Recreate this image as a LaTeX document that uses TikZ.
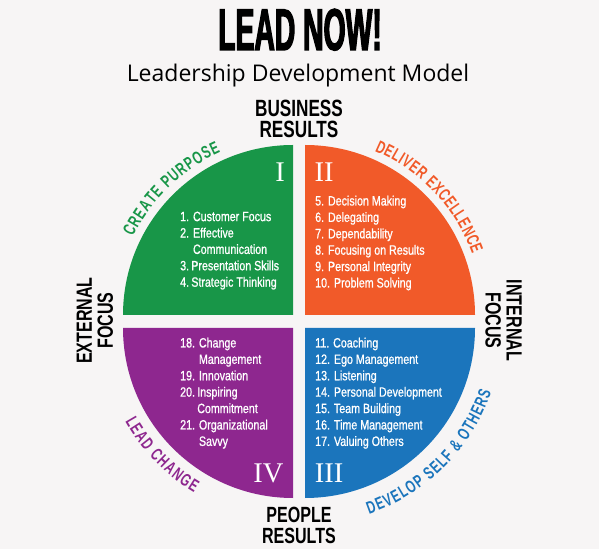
\documentclass[tikz,border=0pt]{standalone}
\usepackage{fontspec}
\setmainfont{Liberation Sans}
\newfontfamily\titlefont[FakeStretch=0.48,FakeBold=2]{Liberation Sans}
\newfontfamily\subtitlefont{Open Sans}
\newfontfamily\headfont[FakeStretch=0.73]{Liberation Sans}
\newfontfamily\listfont[FakeStretch=0.79,FakeBold=0.9]{Liberation Sans}
\newfontfamily\arcfont[FakeStretch=0.68]{Liberation Sans}
\newfontfamily\numeralfont{Liberation Serif}
\usetikzlibrary{calc, decorations.text}
\definecolor{leadgreen}{RGB}{24, 150, 72}
\definecolor{leadorange}{RGB}{241, 90, 41}
\definecolor{leadpurple}{RGB}{142, 39, 143}
\definecolor{leadblue}{RGB}{27, 117, 188}
\definecolor{paper}{RGB}{247, 245, 245}
\newcommand{\indentas}[1]{\phantom{#1}}
\tikzset{
  titlenode/.style={anchor=base, inner sep=0pt, font=\titlefont\bfseries\fontsize{59}{59}\selectfont},
  subtitlenode/.style={anchor=base, inner sep=0pt, font=\subtitlefont\fontsize{23}{23}\selectfont},
  headnode/.style={align=center, inner sep=0pt, font=\headfont\bfseries\fontsize{#1}{21}\selectfont},
  headnode/.default=22,
  listnode/.style={anchor=north west, align=left, inner sep=0pt, text=white, font=\listfont\fontsize{13.5}{16.4}\selectfont},
  numeral/.style={anchor=base, inner sep=0pt, text=white, font=\numeralfont\fontsize{28.5}{28.5}\selectfont},
  arclabel/.style 2 args={decorate, decoration={text along path, text align={fit to path},
    text={|\arcfont\bfseries\fontsize{17.5}{17.5}\selectfont\color{#1}|#2}}},
}

\begin{document}
\begin{tikzpicture}[x=1pt, y=1pt]
  \fill[paper] (0,0) rectangle (599,549);
  \useasboundingbox (0,0) rectangle (599,549);
  % quadrant corners
  \coordinate (cG) at (293,234);
  \coordinate (cO) at (305,234);
  \coordinate (cB) at (305,221);
  \coordinate (cP) at (293,221);
  \foreach \c/\col/\a in {cG/leadgreen/90, cO/leadorange/0, cB/leadblue/-90, cP/leadpurple/180}
    \fill[\col] (\c) -- ++(\a:170pt) arc[start angle=\a, delta angle=90, radius=170pt] -- cycle;

  \node[titlenode] (title) at (300,499) {LEAD NOW!};
  \node[subtitlenode] (subtitle) at (298,467) {Leadership Development Model};

  \node[headnode=23.5, anchor=north] (business) at (299,449) {BUSINESS\\RESULTS};
  \node[headnode, anchor=north] (people) at (299,42) {PEOPLE\\RESULTS};
  \node[headnode, rotate=90] (external) at (95,228.5) {EXTERNAL\\FOCUS};
  \node[headnode, rotate=-90] (internal) at (503.5,228.5) {INTERNAL\\FOCUS};

  % curved quadrant names
  \path[arclabel={leadgreen}{CREATE PURPOSE}] ([shift={(154:178pt)}]cG) arc[start angle=154, end angle=114, radius=178pt];
  \path[arclabel={leadorange}{DELIVER EXCELLENCE}] ([shift={(67:178pt)}]cO) arc[start angle=67, end angle=20, radius=178pt];
  \path[arclabel={leadblue}{DEVELOP SELF {\&} OTHERS}] ([shift={(-71:197pt)}]cB) arc[start angle=-71, end angle=-19, radius=197pt];
  \path[arclabel={leadpurple}{LEAD CHANGE}] ([shift={(209:192pt)}]cP) arc[start angle=209, end angle=239, radius=192pt];

  \node[numeral] (numI) at (280,367) {I};
  \node[numeral] (numII) at (324,367) {II};
  \node[numeral] (numIII) at (329,67) {III};
  \node[numeral] (numIV) at (268.5,67) {IV};

  % lists, one node per quadrant
  \node[listnode] (greenlist) at (180,337.5) {1. Customer Focus\\
    2. Effective\\
    \indentas{2. }Communication\\
    3.\,Presentation Skills\\
    4.\,Strategic Thinking};
  \node[listnode] (orangelist) at (315,353.5) {5. Decision Making\\
    6. Delegating\\
    7. Dependability\\
    8. Focusing on Results\\
    9. Personal Integrity\\
    10. Problem Solving};
  \node[listnode] (bluelist) at (315,211.5) {11. Coaching\\
    12. Ego Management\\
    13. Listening\\
    14. Personal Development\\
    15. Team Building\\
    16. Time Management\\
    17. Valuing Others};
  \node[listnode] (purplelist) at (180,211.5) {18. Change\\
    \indentas{18. }Management\\
    19. Innovation\\
    20.\,Inspiring\\
    \indentas{20.\,}Commitment\\
    21. Organizational\\
    \indentas{21. }Savvy};
\end{tikzpicture}
\end{document}
